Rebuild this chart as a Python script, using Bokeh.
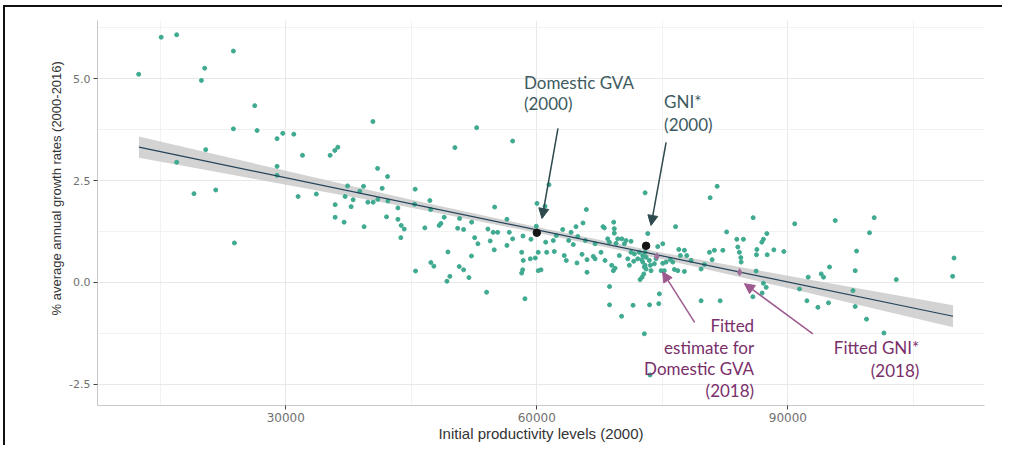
import numpy as np
from bokeh.plotting import figure
from bokeh.models import (FixedTicker, PrintfTickFormatter, NumeralTickFormatter,
                          Arrow, NormalHead, Title, Range1d)
from bokeh.embed import file_html
from bokeh.resources import INLINE
from bokeh.core.properties import value

# ---- data ----
x_prod = [12420, 15110, 16960, 23740, 20310, 19920, 26290, 23740, 26570, 29640,
          28960, 30960, 20430, 16960, 32000, 35300, 35860, 36220, 28960, 28960,
          19030, 21630, 31470, 33650, 35900, 35900, 23860, 40410, 52810, 50210,
          57110, 40970, 42160, 37380, 39290, 38850, 41520, 45460, 37090, 38050,
          39810, 40440, 41000, 42200, 45390, 47220, 37810, 43400, 47310, 54960,
          36970, 39360, 42040, 43400, 48930, 50770, 52210, 43790, 44150, 46620,
          48330, 48540, 50540, 51250, 54160, 54790, 55320, 43750, 52570, 54430,
          52960, 54910, 49380, 52190, 47340, 47700, 50730, 51250, 45510, 49610,
          49260, 51890, 54000, 61450, 72940, 60020, 60980, 65920, 56430, 59940,
          69190, 56710, 58350, 59300, 63090, 64680, 65520, 67910, 68070, 69260,
          69260, 64090, 64890, 62330, 61970, 61060, 57110, 56430, 63810, 64360,
          65800, 68470, 68670, 69670, 70150, 70660, 71260, 69470, 70460, 66960,
          67670, 62090, 61180, 60170, 58190, 59820, 58380, 59220, 63280, 63520,
          64800, 65400, 66000, 66750, 66960, 68150, 69860, 71260, 71660, 72250,
          72660, 70870, 71580, 72060, 72540, 73060, 68950, 69350, 71060, 72940,
          73060, 69150, 66000, 60500, 60170, 58190, 58310, 72780, 72340, 68690,
          58580, 68690, 71500, 73470, 70130, 72850, 74570, 74650, 73530, 81550,
          80710, 85850, 90820, 76580, 82680, 87490, 73260, 87080, 86890, 83900,
          84690, 84020, 84210, 81220, 82230, 80630, 86300, 88330, 89520, 86250,
          87530, 84380, 84420, 75050, 74450, 76970, 77640, 77160, 77920, 78440,
          80950, 80030, 79630, 75960, 76250, 75050, 75450, 74250, 72850, 72940,
          72660, 72850, 72580, 73450, 73570, 73650, 74050, 76440, 76850, 77640,
          74850, 75240, 86210, 87080, 87410, 86930, 85820, 79630, 81910, 91390,
          95660, 100320, 99760, 98210, 94980, 93990, 94260, 92430, 98050, 102960,
          109860, 109690, 97780, 92280, 93590, 94860, 98050, 99400, 101480]
y_growth = [5.11, 6.02, 6.08, 5.68, 5.26, 4.96, 4.34, 3.77, 3.73, 3.66,
            3.53, 3.64, 3.26, 2.95, 3.12, 3.12, 3.24, 3.32, 2.85, 2.63,
            2.18, 2.27, 2.11, 2.17, 1.91, 1.60, 0.97, 3.95, 3.80, 3.31,
            3.47, 2.80, 2.60, 2.37, 2.36, 2.24, 2.31, 2.29, 2.11, 2.03,
            1.97, 1.97, 2.04, 2.00, 1.92, 2.01, 1.86, 1.83, 1.79, 1.85,
            1.48, 1.37, 1.61, 1.55, 1.60, 1.57, 1.48, 1.40, 1.31, 1.34,
            1.40, 1.45, 1.33, 1.30, 1.31, 1.23, 1.23, 1.10, 1.10, 1.02,
            0.95, 0.80, 0.75, 0.65, 0.49, 0.40, 0.39, 0.31, 0.28, 0.15,
            0.03, 0.12, -0.24, 2.40, 2.20, 1.94, 1.87, 1.79, 1.55, 1.38,
            1.48, 1.23, 1.14, 1.06, 1.30, 1.37, 1.46, 1.37, 1.34, 1.32,
            1.21, 1.23, 1.13, 1.15, 1.03, 0.99, 1.07, 0.91, 1.03, 0.93,
            1.03, 1.07, 0.99, 1.07, 1.07, 1.03, 1.01, 0.96, 0.95, 0.95,
            0.74, 0.76, 0.74, 0.74, 0.74, 0.60, 0.54, 0.58, 0.66, 0.54,
            0.48, 0.69, 0.56, 0.64, 0.58, 0.54, 0.66, 0.74, 0.70, 0.74,
            0.66, 0.58, 0.52, 0.58, 0.56, 0.62, 0.42, 0.35, 0.42, 0.42,
            0.33, 0.29, 0.25, 0.31, 0.29, 0.23, 0.31, 0.21, 0.07, -0.10,
            -0.40, -0.55, -0.56, -0.55, -0.83, -1.26, -0.52, -0.28, -2.27, 2.36,
            2.08, 1.59, 1.44, 1.37, 1.24, 1.20, 1.20, 1.06, 0.99, 1.06,
            1.06, 0.87, 0.74, 0.79, 0.79, 0.74, 0.81, 0.80, 0.76, 0.68,
            0.68, 0.61, 0.50, 0.95, 0.88, 0.81, 0.79, 0.66, 0.66, 0.54,
            0.56, 0.44, 0.33, 0.56, 0.50, 0.47, 0.50, 0.58, 0.87, 0.74,
            0.50, 0.38, 0.13, 0.54, 0.42, 0.29, 0.46, 0.32, 0.29, 0.27,
            0.29, 0.29, 0.28, -0.02, -0.12, -0.26, -0.35, -0.45, -0.45, -0.16,
            1.52, 1.59, 1.22, 0.77, 0.38, 0.21, 0.13, 0.13, 0.29, 0.07,
            0.60, 0.15, -0.20, -0.45, -0.61, -0.50, -0.59, -0.90, -1.24]

# fitted line (end points) and confidence band half-widths
fit_x = [12450, 109740]
fit_y = [3.32, -0.83]
band_x = [12450, 20000, 30000, 45000, 60000, 75000, 90000, 100000, 109740]
band_half = [0.26, 0.22, 0.17, 0.10, 0.07, 0.08, 0.15, 0.21, 0.27]

# highlighted points
key_x = [60000, 73060]          # Domestic GVA (2000), GNI* (2000)
key_y = [1.22, 0.90]
fit18_x = [74340, 84240]        # fitted Domestic GVA (2018), fitted GNI* (2018)
fit18_y = [0.64, 0.25]

x_ticks = [30000, 60000, 90000]
x_minor = [15000, 45000, 75000, 105000]
y_ticks = [-2.5, 0.0, 2.5, 5.0]
y_minor = [-1.25, 1.25, 3.75, 6.25]

# ---- figure ----
p = figure(width=999, height=440, x_range=Range1d(7500, 113500),
           y_range=Range1d(-3.02, 6.43), output_backend="svg",
           toolbar_location=None, min_border_left=92, min_border_right=20,
           min_border_top=13, min_border_bottom=42)
p.styles = {"border-top": "2px solid #111111", "border-left": "2px solid #111111",
            "margin-top": "5px", "margin-left": "3px"}
p.outline_line_color = None
p.background_fill_color = "white"
p.border_fill_color = "white"

xt = FixedTicker(ticks=x_ticks, minor_ticks=x_minor)
yt = FixedTicker(ticks=y_ticks, minor_ticks=y_minor)
p.xaxis.ticker = xt
p.yaxis.ticker = yt
p.xgrid.ticker = xt
p.ygrid.ticker = yt
p.xaxis.formatter = NumeralTickFormatter(format="0")
p.yaxis.formatter = PrintfTickFormatter(format="%.1f")
for g in (p.xgrid, p.ygrid):
    g.grid_line_color = "#E8E8E8"
    g.grid_line_width = 1
    g.minor_grid_line_color = "#F2F2F2"
    g.minor_grid_line_width = 1
for ax in (p.xaxis, p.yaxis):
    ax.axis_line_color = "#C9C9C9"
    ax.major_tick_line_color = "#444444"
    ax.major_tick_out = 4
    ax.major_tick_in = 0
    ax.minor_tick_line_color = None
    ax.major_label_text_font = "DejaVu Sans"
    ax.major_label_text_font_size = "11px"
    ax.major_label_text_color = "#707070"
    ax.major_label_standoff = 3
p.xaxis.major_label_text_font_size = "12px"

p.xaxis.axis_label = "Initial productivity levels (2000)"
p.xaxis.axis_label_text_font = "Liberation Sans"
p.xaxis.axis_label_text_font_size = "15px"
p.xaxis.axis_label_text_font_style = "normal"
p.xaxis.axis_label_text_color = "#333333"
p.xaxis.axis_label_standoff = 0

# y label as a left-side title, offset upward as in the original
ytitle = Title(text="% average annual growth rates (2000-2016)", align="left",
               offset=90, text_font="Liberation Sans", text_font_size="13px",
               text_font_style="normal", text_color="#333333", standoff=6)
p.add_layout(ytitle, "left")

# ---- band and fitted line ----
band_fit = np.interp(band_x, fit_x, fit_y)
lower = [f - h for f, h in zip(band_fit, band_half)]
upper = [f + h for f, h in zip(band_fit, band_half)]
p.varea(x=band_x, y1=lower, y2=upper, fill_color="#C4C4C4", fill_alpha=0.75)

# ---- scatter ----
p.scatter(x_prod, y_growth, size=4, fill_color="#3FAA90", line_color="#3FAA90")
p.line(fit_x, fit_y, line_color="#24435A", line_width=1.2)

p.scatter(key_x, key_y, size=7.5, fill_color="#151515", line_color="#151515")
p.scatter(fit18_x, fit18_y, size=7, marker="diamond", fill_color="#A0709A",
          line_color="#A0709A")

# ---- annotations ----
dark = "#3D5A60"
dark_arrow = "#2E4A4E"
purple = "#7A2F6B"
purple_arrow = "#9E5A8E"

font = value("Lato")
p.text(x=[58460, 58460, 75210, 75210], y=[4.91, 4.39, 4.44, 3.88],
       text=["Domestic GVA", "(2000)", "GNI*", "(2000)"],
       text_font=font, text_font_size="17px", text_color=dark,
       text_align="left", text_baseline="middle")
p.text(x=[85970, 85970, 85970, 85970, 105710, 105710],
       y=[-1.06, -1.60, -2.11, -2.65, -1.60, -2.16],
       text=["Fitted", "estimate for", "Domestic GVA", "(2018)", "Fitted GNI*", "(2018)"],
       text_font=font, text_font_size="17px", text_color=purple,
       text_align="right", text_baseline="middle")

arrows = [
    (62530, 3.78, 60620, 1.57, dark_arrow),
    (75450, 3.44, 73650, 1.40, dark_arrow),
    (78860, -0.98, 75030, 0.26, purple_arrow),
    (92990, -1.26, 84810, -0.03, purple_arrow),
]
for xs, ys, xe, ye, c in arrows:
    p.add_layout(Arrow(end=NormalHead(size=10, fill_color=c, line_color=c),
                       x_start=xs, y_start=ys, x_end=xe, y_end=ye,
                       line_color=c, line_width=1.5))

open("out.html", "w").write(file_html(p, INLINE))
